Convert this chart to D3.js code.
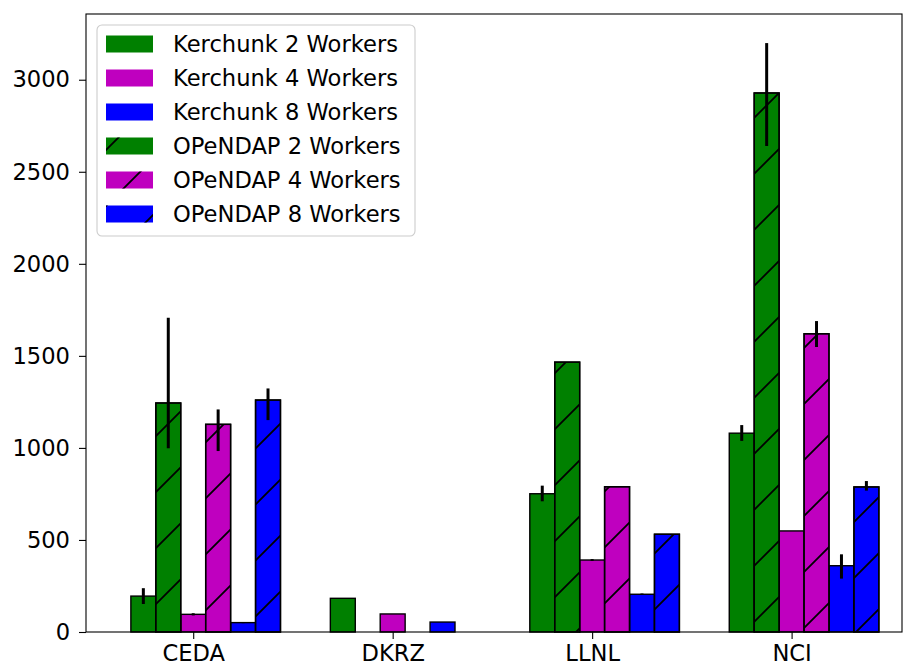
<!DOCTYPE html>
<html>
<head>
<meta charset="utf-8">
<script src="https://cdn.jsdelivr.net/npm/d3@7"></script>
<style>
  body { margin: 0; background: #fff; }
  text { font-family: "DejaVu Sans", sans-serif; fill: #000; }
  .axis text { font-size: 22.6px; }
  .axis path, .axis line { stroke: #000; stroke-width: 1.1; }
  .bar { stroke: #000; stroke-width: 1.4; }
  .err { stroke: #000; stroke-width: 3; }
  .legend-text { font-size: 22.6px; }
</style>
</head>
<body>
<div id="chart"></div>
<script>
// data
var sites = ["CEDA", "DKRZ", "LLNL", "NCI"],
    kerchunk2 = [195, 183, 751, 1080],
    kerchunk4 = [96, 98, 391, 549],
    kerchunk8 = [51, 54, 205, 360],
    opendap2 = [1244, 0, 1466, 2928],
    opendap4 = [1128, 0, 789, 1620],
    opendap8 = [1260, 0, 531, 788],
    // error bars as [below, above]
    kerchunk2Err = [[43, 43], [0, 0], [41, 44], [42, 44]],
    kerchunk4Err = [[6, 6], [0, 0], [5, 5], [0, 0]],
    kerchunk8Err = [[3, 3], [0, 0], [4, 4], [70, 62]],
    opendap2Err = [[246, 463], [0, 0], [0, 0], [288, 271]],
    opendap4Err = [[145, 81], [0, 0], [0, 0], [72, 69]],
    opendap8Err = [[109, 63], [0, 0], [0, 0], [20, 32]],
    yTicks = [0, 500, 1000, 1500, 2000, 2500, 3000];

var series = [
    {name: "Kerchunk 2 Workers", values: kerchunk2, err: kerchunk2Err, color: "#008000", hatch: false, slot: -2},
    {name: "Kerchunk 4 Workers", values: kerchunk4, err: kerchunk4Err, color: "#bf00bf", hatch: false, slot: 0},
    {name: "Kerchunk 8 Workers", values: kerchunk8, err: kerchunk8Err, color: "#0000ff", hatch: false, slot: 2},
    {name: "OPeNDAP 2 Workers", values: opendap2, err: opendap2Err, color: "#008000", hatch: true, slot: -1},
    {name: "OPeNDAP 4 Workers", values: opendap4, err: opendap4Err, color: "#bf00bf", hatch: true, slot: 1},
    {name: "OPeNDAP 8 Workers", values: opendap8, err: opendap8Err, color: "#0000ff", hatch: true, slot: 3}
];

var W = 904, H = 667,
    plot = {left: 86, right: 902, top: 14, bottom: 632},
    barW = 0.125;

var x = d3.scaleLinear().domain([-0.5375, 3.5535]).range([plot.left, plot.right]),
    y = d3.scaleLinear().domain([0, 3357]).range([plot.bottom, plot.top]);

var svg = d3.select("#chart").append("svg")
    .attr("width", W)
    .attr("height", H);

// hatch pattern "/" in page coordinates, like matplotlib
var defs = svg.append("defs");
var hatchSize = 56;
var pat = defs.append("pattern")
    .attr("id", "hatch")
    .attr("patternUnits", "userSpaceOnUse")
    .attr("x", 32)
    .attr("y", 0)
    .attr("width", hatchSize)
    .attr("height", hatchSize);
pat.append("path")
    .attr("d", "M0," + hatchSize + "L" + hatchSize + ",0M-2,2L2,-2M" + (hatchSize - 2) + "," + (hatchSize + 2) + "L" + (hatchSize + 2) + "," + (hatchSize - 2))
    .attr("stroke", "#000")
    .attr("stroke-width", 1.8);

function barX(s) { return function (d) { return x(d.i + (s.slot - 0.5) * barW); }; }

// bars
series.forEach(function (s) {
    var g = svg.append("g");
    var rows = s.values.map(function (v, i) { return {i: i, v: v, e: s.err[i]}; });
    g.selectAll(".bar")
        .data(rows)
        .enter().append("rect")
        .attr("class", "bar")
        .attr("x", barX(s))
        .attr("y", function (d) { return y(d.v); })
        .attr("width", x(barW) - x(0))
        .attr("height", function (d) { return y(0) - y(d.v); })
        .attr("fill", s.color);
    if (s.hatch) {
        g.selectAll(".hatch")
            .data(rows)
            .enter().append("rect")
            .attr("x", barX(s))
            .attr("y", function (d) { return y(d.v); })
            .attr("width", x(barW) - x(0))
            .attr("height", function (d) { return y(0) - y(d.v); })
            .attr("fill", "url(#hatch)");
        g.selectAll(".edge")
            .data(rows)
            .enter().append("rect")
            .attr("class", "bar")
            .attr("x", barX(s))
            .attr("y", function (d) { return y(d.v); })
            .attr("width", x(barW) - x(0))
            .attr("height", function (d) { return y(0) - y(d.v); })
            .attr("fill", "none");
    }
});

// error bars
series.forEach(function (s) {
    var rows = s.values.map(function (v, i) { return {i: i, v: v, e: s.err[i]}; })
        .filter(function (d) { return d.e[0] + d.e[1] > 0; });
    svg.append("g").selectAll(".err")
        .data(rows)
        .enter().append("line")
        .attr("class", "err")
        .attr("x1", function (d) { return x(d.i + s.slot * barW); })
        .attr("x2", function (d) { return x(d.i + s.slot * barW); })
        .attr("y1", function (d) { return y(d.v - d.e[0]); })
        .attr("y2", function (d) { return y(d.v + d.e[1]); });
});

// axes
var xAxis = d3.axisBottom(x)
    .tickValues(d3.range(sites.length))
    .tickFormat(function (d) { return sites[d]; })
    .tickSize(7)
    .tickPadding(6);
var yAxis = d3.axisLeft(y)
    .tickValues(yTicks)
    .tickFormat(d3.format("d"))
    .tickSize(7)
    .tickPadding(9);

svg.append("g")
    .attr("class", "axis")
    .attr("transform", "translate(0," + plot.bottom + ")")
    .call(xAxis)
    .call(function (g) { g.select(".domain").remove(); });
svg.append("g")
    .attr("class", "axis")
    .attr("transform", "translate(" + plot.left + ",0)")
    .call(yAxis)
    .call(function (g) { g.select(".domain").remove(); });

// frame
svg.append("rect")
    .attr("x", plot.left)
    .attr("y", plot.top)
    .attr("width", plot.right - plot.left)
    .attr("height", plot.bottom - plot.top)
    .attr("fill", "none")
    .attr("stroke", "#000")
    .attr("stroke-width", 1.1);

// legend
var legend = svg.append("g").attr("transform", "translate(97,25)");
legend.append("rect")
    .attr("width", 318)
    .attr("height", 211)
    .attr("rx", 5)
    .attr("fill", "#fff")
    .attr("fill-opacity", 0.8)
    .attr("stroke", "#cccccc")
    .attr("stroke-width", 1.1);
var items = legend.selectAll(".item")
    .data(series)
    .enter().append("g")
    .attr("transform", function (d, i) { return "translate(0," + (19 + i * 34) + ")"; });
items.append("rect")
    .attr("x", 9)
    .attr("y", -8.5)
    .attr("width", 47)
    .attr("height", 17)
    .attr("fill", function (d) { return d.color; });
// hatch overlay drawn in page space so the pattern phase matches the bars
series.forEach(function (s, i) {
    if (!s.hatch) return;
    svg.append("rect")
        .attr("x", 97 + 9)
        .attr("y", 25 + 19 + i * 34 - 8.5)
        .attr("width", 47)
        .attr("height", 17)
        .attr("fill", "url(#hatch)");
});
items.append("text")
    .attr("class", "legend-text")
    .attr("x", 76)
    .attr("y", 8)
    .text(function (d) { return d.name; });
</script>
</body>
</html>
